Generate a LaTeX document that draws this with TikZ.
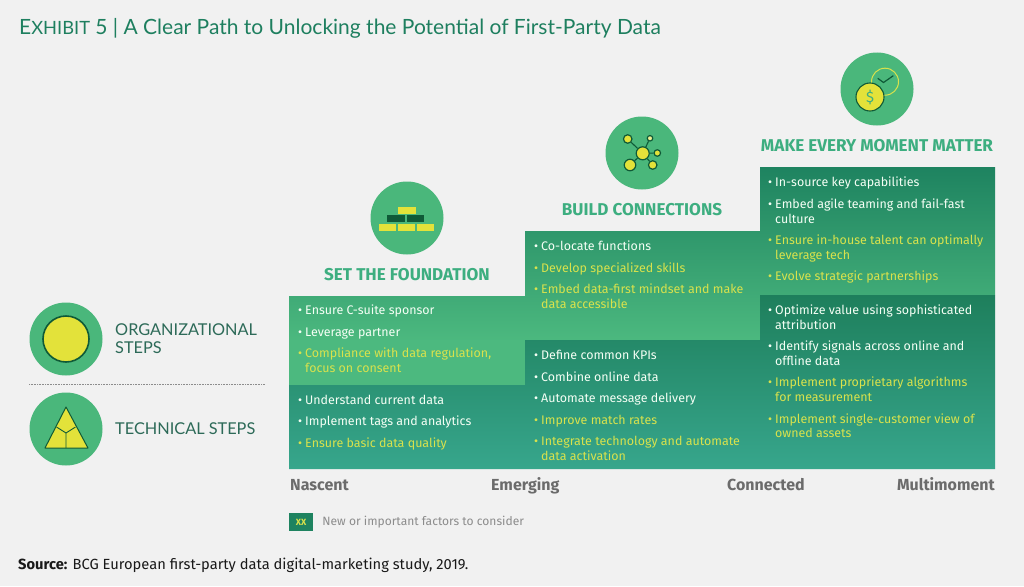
\documentclass[tikz,border=0pt]{standalone}
\usepackage{xcolor}
\usepackage{fontspec}
\setmainfont{Fira Sans}
\newfontfamily\headfont{Lato}
\usetikzlibrary{positioning}

\definecolor{pagebg}{HTML}{F1F1F1}
\definecolor{orgtop}{HTML}{1E8360}
\definecolor{orglow}{HTML}{4CB97F}
\definecolor{techtop}{HTML}{1E7F5C}
\definecolor{techlow}{HTML}{37A68C}
\definecolor{disc}{HTML}{4AB77B}
\definecolor{lemon}{HTML}{E3E23A}
\definecolor{pine}{HTML}{0F5A37}
\definecolor{tipyellow}{HTML}{D9E24C}
\definecolor{headgreen}{HTML}{3DAE80}
\definecolor{titlegreen}{HTML}{1E7F5F}
\definecolor{sidegreen}{HTML}{2D6A58}
\pgfdeclareverticalshading{orgfade}{100bp}{color(0bp)=(orglow); color(35bp)=(orglow); color(75bp)=(orgtop); color(100bp)=(orgtop)}

\newcommand{\pip}{\rule[-3.5pt]{0pt}{14pt}\llap{\textbullet\hspace{3pt}}}
\newcommand{\tipstrut}{\rule[-3.5pt]{0pt}{14pt}}

\begin{document}
\begin{tikzpicture}[x=1pt, y=-1pt,
  disc/.style={circle, fill=disc, minimum size=73pt, inner sep=0pt},
  tip/.style={align=left, inner sep=0pt, text=white!96!green,
              font=\fontsize{12.45}{14.6}\selectfont},
  key/.style={tip, text=tipyellow},
  next/.style={below=7.2pt of #1.south west, anchor=north west},
  head/.style={text=headgreen, inner sep=0pt, font=\fontsize{17.1}{20}\selectfont\bfseries},
  side/.style={text=sidegreen, inner sep=0pt, align=left, anchor=base west,
               font=\headfont\fontsize{16.3}{18}\selectfont},
  stage/.style={text=black!58, inner sep=0pt, font=\fontsize{16}{19}\selectfont\bfseries},
  brick/.style={fill=lemon, inner sep=0pt, minimum width=17.5pt, minimum height=7pt},
  darkbrick/.style={brick, fill=pine},
  hub/.style={circle, draw=pine, line width=1.2pt, fill=lemon, inner sep=0pt},
  link/.style={draw=pine, line width=1.1pt}
]
\useasboundingbox[fill=pagebg] (0,0) rectangle (1024,586);

\node[anchor=base west, inner sep=0pt, text=titlegreen, font=\headfont\fontsize{21}{24}\selectfont] (title) at (19,34.5)
  {E{\fontsize{18.3}{24}\selectfont XHIBIT} 5 | A Clear Path to Unlocking the Potential of First-Party Data};

% staircase
\path[shading=orgfade] (289,296) -- (525,296) -- (525,231) -- (760,231) -- (760,167) -- (995,167)
  -- (995,295) -- (760,295) -- (760,340) -- (525,340) -- (525,385) -- (289,385) -- cycle;
\path[top color=techtop, bottom color=techlow] (289,385) -- (525,385) -- (525,340) -- (760,340)
  -- (760,295) -- (995,295) -- (995,469) -- (289,469) -- cycle;

% left key
\node[disc] (orgicon) at (66,339) {};
\node[hub, minimum size=46pt, line width=1.6pt] (orgdot) at (orgicon) {};
\node[disc] (techicon) at (66,429) {};
\coordinate (apex) at (66,407);
\coordinate (baseL) at (45,448);
\coordinate (baseR) at (88,448);
\coordinate (baseM) at (66,448);
\coordinate (mid) at (66,433);
\coordinate (legL) at (56.5,427);
\coordinate (legR) at (75.5,427);
\draw[fill=lemon, draw=pine, line width=1pt, line join=round] (apex) -- (baseR) -- (baseL) -- cycle;
\draw[link, line width=.9pt] (legL) -- (mid) -- (legR) (mid) -- (baseM);
\node[side] (orglabel) at (115,353) {ORGANIZATIONAL\\STEPS};
\node[side] (techlabel) at (115,434) {TECHNICAL STEPS};
\coordinate (ruleL) at (29,384);
\coordinate (ruleR) at (265,384);
\draw[black!45, line width=.7pt, dash pattern=on .8pt off .8pt] (ruleL) -- (ruleR);

% foundation
\node[disc] (fndicon) at (407,218) {};
\node[brick] (b1) at (407,210.5) {};
\node[darkbrick] (b2) at (396,218.5) {};
\node[darkbrick] (b3) at (415.5,218.5) {};
\node[brick] (b4) at (387.5,227) {};
\node[brick] (b5) at (406.5,227) {};
\node[brick] (b6) at (425.5,227) {};
\node[head, below=13.5pt of fndicon] (fndhead) {SET THE FOUNDATION};

\node[tip, anchor=north west] (f1) at (305,304) {\pip Ensure C-suite sponsor\tipstrut};
\node[tip, next=f1] (f2) {\pip Leverage partner\tipstrut};
\node[key, next=f2] (f3) {\pip Compliance with data regulation,\\focus on consent\tipstrut};
\node[tip, anchor=north west] (f4) at (305,393.5) {\pip Understand current data\tipstrut};
\node[tip, next=f4] (f5) {\pip Implement tags and analytics\tipstrut};
\node[key, next=f5] (f6) {\pip Ensure basic data quality\tipstrut};

% connections
\node[disc] (bldicon) at (642,153) {};
\node[hub, minimum size=13pt] (hubC) at (642.7,153.3) {};
\node[hub, minimum size=8.5pt] (hubA) at (627.7,139) {};
\node[hub, minimum size=5.5pt, fill=lemon!55] (hubB) at (650,138.3) {};
\node[hub, minimum size=6.5pt] (hubD) at (657.3,153) {};
\node[hub, minimum size=8.5pt] (hubE) at (652.7,165) {};
\node[hub, minimum size=11.5pt] (hubF) at (630,165) {};
\draw[link] (hubC) -- (hubA);
\draw[link] (hubC) -- (hubB);
\draw[link] (hubC) -- (hubD);
\draw[link] (hubC) -- (hubE);
\draw[link] (hubC) -- (hubF);
\node[head, below=13.5pt of bldicon] (bldhead) {BUILD CONNECTIONS};

\node[tip, anchor=north west] (c1) at (541,239.8) {\pip Co-locate functions\tipstrut};
\node[key, next=c1] (c2) {\pip Develop specialized skills\tipstrut};
\node[key, next=c2] (c3) {\pip Embed data-first mindset and make\\data accessible\tipstrut};
\node[tip, anchor=north west] (c4) at (541,348.8) {\pip Define common KPIs\tipstrut};
\node[tip, next=c4] (c5) {\pip Combine online data\tipstrut};
\node[tip, next=c5] (c6) {\pip Automate message delivery\tipstrut};
\node[key, next=c6] (c7) {\pip Improve match rates\tipstrut};
\node[key, next=c7] (c8) {\pip Integrate technology and automate\\data activation\tipstrut};

% moment
\node[disc] (mnticon) at (877,89) {};
\node[circle, draw=tipyellow, line width=1pt, minimum size=27pt, inner sep=0pt] (clock) at (885,81.7) {};
\coordinate (pivot) at (883.5,82.5);
\coordinate (hourend) at (877.7,78.3);
\coordinate (minend) at (893.3,75.7);
\draw[pine, line width=1.2pt] (hourend) -- (pivot) -- (minend);
\node[hub, minimum size=28pt, line width=1.1pt, text=headgreen, font=\fontsize{15}{15}\selectfont] (coin) at (870,97) {\$};
\node[head, below=13.5pt of mnticon] (mnthead) {MAKE EVERY MOMENT MATTER};

\node[tip, anchor=north west] (m1) at (775,176.2) {\pip In-source key capabilities\tipstrut};
\node[tip, next=m1] (m2) {\pip Embed agile teaming and fail-fast\\culture\tipstrut};
\node[key, next=m2] (m3) {\pip Ensure in-house talent can optimally\\leverage tech\tipstrut};
\node[key, next=m3] (m4) {\pip Evolve strategic partnerships\tipstrut};
\node[tip, anchor=north west] (m5) at (775,303.8) {\pip Optimize value using sophisticated\\attribution\tipstrut};
\node[tip, next=m5] (m6) {\pip Identify signals across online and\\offline data\tipstrut};
\node[key, next=m6] (m7) {\pip Implement proprietary algorithms\\for measurement\tipstrut};
\node[key, next=m7] (m8) {\pip Implement single-customer view of\\owned assets\tipstrut};

% axis
\node[stage, anchor=base west] (nascent) at (290,490) {Nascent};
\node[stage, anchor=base west] (emerging) at (491,490) {Emerging};
\node[stage, anchor=base west] (connected) at (727,490) {Connected};
\node[stage, anchor=base east] (multi) at (995,490) {Multimoment};

% legend and source
\node[fill=orgtop, text=tipyellow, inner sep=0pt, minimum width=24pt, minimum height=18pt,
      font=\fontsize{9}{9}\selectfont\bfseries] (xx) at (301,522) {XX};
\node[right=9pt of xx, inner sep=0pt, text=black!45, font=\fontsize{12.05}{15}\selectfont] (legend) {New or important factors to consider};
\node[anchor=base west, inner sep=0pt, text=black!90, font=\fontsize{14.7}{17}\selectfont] (source) at (18,569)
  {\textbf{Source:} BCG European first-party data digital-marketing study, 2019.};
\end{tikzpicture}
\end{document}
